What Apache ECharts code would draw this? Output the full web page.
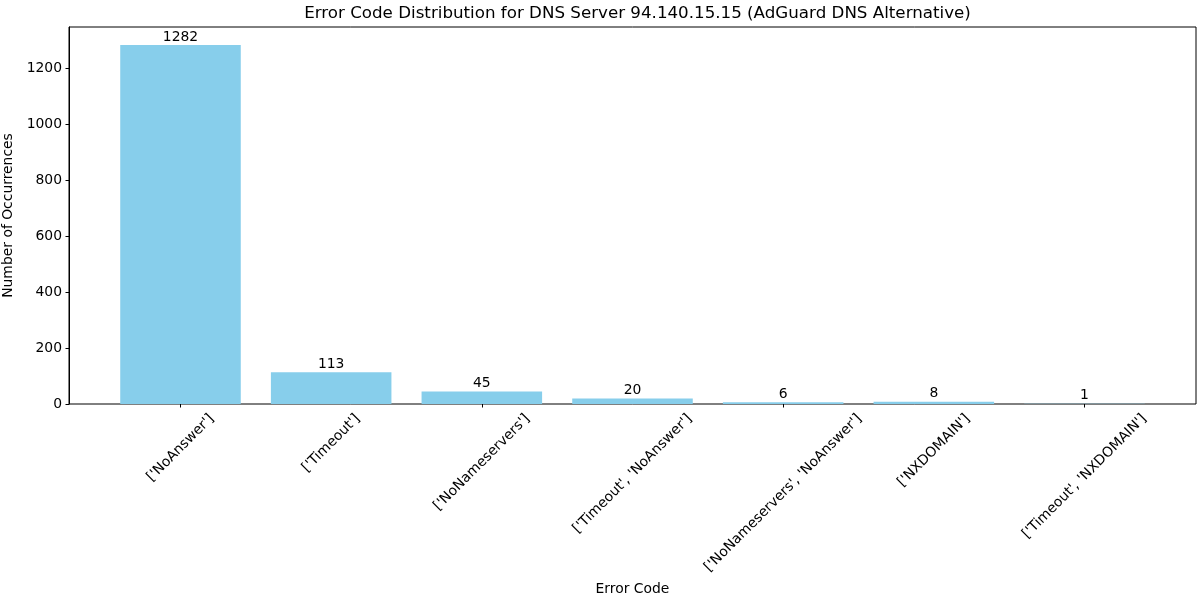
<!DOCTYPE html>
<html><head><meta charset="utf-8">
<script src="https://cdn.jsdelivr.net/npm/echarts@6/dist/echarts.min.js"></script>
<style>html,body{margin:0;padding:0;background:#fff}#c{width:1200px;height:600px}</style>
</head><body><div id="c"></div>
<script>
const categories = ["['NoAnswer']", "['Timeout']", "['NoNameservers']", "['Timeout', 'NoAnswer']", "['NoNameservers', 'NoAnswer']", "['NXDOMAIN']", "['Timeout', 'NXDOMAIN']"];
const counts = [1282, 113, 45, 20, 6, 8, 1];
const yTicks = [0, 200, 400, 600, 800, 1000, 1200];

const FONT_FAMILY = '"DejaVu Sans", sans-serif';
const FS = 13.9;
const ctx = document.createElement('canvas').getContext('2d');
ctx.font = FS + 'px ' + FONT_FAMILY;
const widths = categories.map(c => ctx.measureText(c).width);

const L = 69, R = 1196, T = 27, B = 404;
const n = categories.length;
const span = n - 1 + 0.8 + 2 * 0.05 * (n - 1 + 0.8); // matplotlib xlim span
const unit = (R - L) / span;
const margin = (span - (n - 1) - 1) / 2;
const g1Left = L + margin * unit;
const g1Width = n * unit;
const yMax = Math.max(...counts) * 1.05;

const chart = echarts.init(document.getElementById('c'));
chart.setOption({
  animation: false,
  textStyle: { fontFamily: FONT_FAMILY },
  title: {
    text: 'Error Code Distribution for DNS Server 94.140.15.15 (AdGuard DNS Alternative)',
    left: (L + R) / 2, top: 0, textAlign: 'center',
    textStyle: { fontFamily: FONT_FAMILY, fontSize: 16.7, fontWeight: 'normal', color: '#000' }
  },
  grid: [
    { left: L, right: 1200 - R, top: T, bottom: 600 - B, containLabel: false, outerBoundsMode: 'none', show: true, borderColor: '#000', borderWidth: 1, backgroundColor: 'transparent' },
    { left: g1Left, width: g1Width, top: T, bottom: 600 - B, containLabel: false, outerBoundsMode: 'none' }
  ],
  xAxis: [
    { gridIndex: 0, type: 'value', min: 0, max: 1, axisLine: { show: false }, axisTick: { show: false }, axisLabel: { show: false }, splitLine: { show: false },
      name: 'Error Code', nameLocation: 'middle', nameGap: 178,
      nameTextStyle: { fontFamily: FONT_FAMILY, fontSize: FS, color: '#000' } },
    { gridIndex: 1, type: 'category', data: categories, axisLine: { show: false },
      axisTick: { show: true, alignWithLabel: true, length: 3.5, lineStyle: { color: '#000' } },
      axisLabel: { show: false }, splitLine: { show: false } }
  ],
  yAxis: [
    { gridIndex: 0, type: 'value', min: 0, max: yMax,
      axisLine: { show: true, lineStyle: { color: '#000' } },
      axisTick: { show: true, length: 3.5, lineStyle: { color: '#000' }, customValues: yTicks },
      axisLabel: { margin: 7, color: '#000', fontSize: FS, fontFamily: FONT_FAMILY, customValues: yTicks, formatter: v => String(v) },
      splitLine: { show: false },
      name: 'Number of Occurrences', nameLocation: 'middle', nameGap: 49,
      nameTextStyle: { fontFamily: FONT_FAMILY, fontSize: FS, color: '#000' } },
    { gridIndex: 1, type: 'value', min: 0, max: yMax, show: false }
  ],
  series: [
    { type: 'bar', xAxisIndex: 1, yAxisIndex: 1, data: counts, barWidth: 0.8 * unit,
      itemStyle: { color: '#87CEEB' },
      label: { show: true, position: 'top', distance: 1, color: '#000', fontSize: FS, fontFamily: FONT_FAMILY } },
    { type: 'custom', xAxisIndex: 1, yAxisIndex: 1, clip: false, silent: true,
      data: categories.map((c, i) => [i, 0]),
      renderItem: function (params, api) {
        const i = api.value(0);
        const p = api.coord([i, 0]);
        const w = widths[i], h = 16;
        const off = (w + h) / (2 * Math.SQRT2);
        return { type: 'text', x: p[0], y: p[1] + 7 + off, rotation: Math.PI / 4,
          style: { text: categories[i], font: FS + 'px ' + FONT_FAMILY, fill: '#000', align: 'center', verticalAlign: 'middle' } };
      } }
  ]
});
</script></body></html>
